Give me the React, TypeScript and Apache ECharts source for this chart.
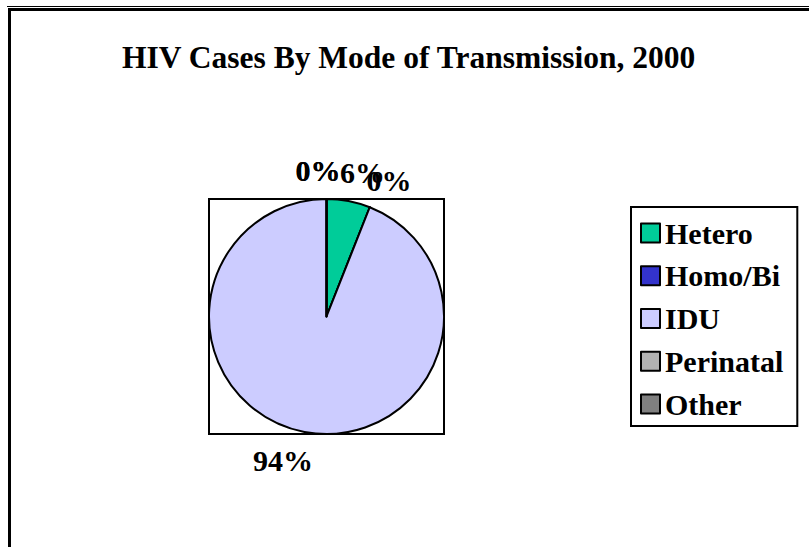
import React, { useEffect, useRef } from "react";
import * as echarts from "echarts";

const TITLE = "HIV Cases By Mode of Transmission, 2000";
const categories = ["Hetero", "Homo/Bi", "IDU", "Perinatal", "Other"];
const percentValues = [6, 0, 94, 0, 0];
const colors = ["#00CC99", "#3333CC", "#CCCCFF", "#B2B2B2", "#808080"];

const FONT = '"Times New Roman", "Liberation Serif", serif';

export default function App() {
  const ref = useRef<HTMLDivElement>(null);
  useEffect(() => {
    document.body.style.margin = "0";
    const chart = echarts.init(ref.current!, null, { renderer: "svg" });
    chart.setOption({
      animation: false,
      backgroundColor: "#ffffff",
      title: {
        text: TITLE,
        left: 122,
        top: 41,
        padding: 0,
        textStyle: { fontFamily: FONT, fontSize: 31.5, fontWeight: "bold", color: "#000" },
      },
      legend: {
        orient: "vertical",
        left: 631,
        top: 207,
        padding: [11, 14, 7, 9],
        itemGap: 12.75,
        itemWidth: 19,
        itemHeight: 19,
        icon: "rect",
        borderColor: "#000",
        borderWidth: 2,
        data: categories,
        textStyle: { fontFamily: FONT, fontSize: 30, fontWeight: "bold", color: "#000" },
      },
      graphic: [
        { type: "rect", z: 0, shape: { x: 209, y: 199, width: 235, height: 235 }, style: { fill: "none", stroke: "#000", lineWidth: 2 } },
        { type: "line", z: 0, shape: { x1: 7, y1: 6.5, x2: 809, y2: 6.5 }, style: { stroke: "#000", lineWidth: 1 } },
        { type: "line", z: 0, shape: { x1: 8, y1: 9.5, x2: 809, y2: 9.5 }, style: { stroke: "#000", lineWidth: 3 } },
        { type: "line", z: 0, shape: { x1: 9.5, y1: 8, x2: 9.5, y2: 547 }, style: { stroke: "#000", lineWidth: 3 } },
      ],
      series: [
        {
          type: "pie",
          center: [326.5, 316.5],
          radius: 117.5,
          startAngle: 90,
          clockwise: true,
          avoidLabelOverlap: false,
          minShowLabelAngle: -1,
          labelLayout: { hideOverlap: false },
          color: colors,
          itemStyle: { borderColor: "#000", borderWidth: 2 },
          label: {
            show: true,
            position: "outside",
            distanceToLabelLine: -14,
            fontFamily: FONT,
            fontSize: 30,
            fontWeight: "bold",
            color: "#000",
            formatter: (p: any) => Math.round(p.percent) + "%",
          },
          labelLine: { show: false, length: 29, length2: 0 },
          emphasis: { disabled: true },
          data: categories.map((name, i) => ({ name, value: percentValues[i] })),
        },
      ],
    });
    return () => chart.dispose();
  }, []);
  return <div ref={ref} style={{ width: 809, height: 547 }} />;
}
